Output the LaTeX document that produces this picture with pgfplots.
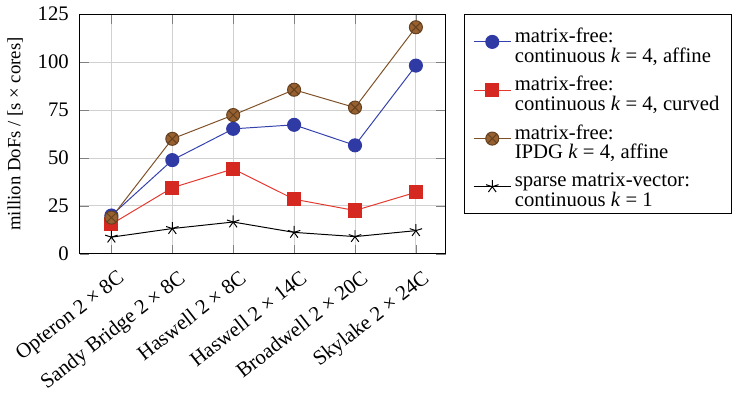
\documentclass[border=0pt]{standalone}
\usepackage{pgfplots}
\pgfplotsset{compat=1.18}
\usepackage{fontspec}
\setmainfont{Liberation Serif}

\definecolor{cblue}{RGB}{52,64,172}
\definecolor{cbluefill}{RGB}{48,58,165}
\definecolor{cred}{RGB}{228,56,46}
\definecolor{credfill}{RGB}{212,40,32}
\definecolor{cbrown}{RGB}{125,80,38}
\definecolor{cbrownfill}{RGB}{150,96,48}

% two-line legend entries with tight line spacing
\newcommand{\entry}[2]{{\renewcommand{\arraystretch}{0.72}%
  \begin{tabular}{@{}l@{}}#1\\#2\end{tabular}}}

\pgfplotstableread{
x affine curved ipdg sparse
0 20.0 15.5 18.9 8.7
1 48.9 34.5 60.0 13.2
2 65.2 44.3 72.4 16.6
3 67.3 28.5 85.6 11.2
4 56.6 22.6 76.3 9.0
5 98.2 32.1 118.2 12.1
}\perfdata

\begin{document}
\begin{tikzpicture}
\begin{axis}[
  scale only axis,
  width=168pt, height=110pt,
  xmin=-0.52, xmax=5.49,
  ymin=0, ymax=125,
  ytick={0,25,50,75,100,125},
  xtick={0,1,2,3,4,5},
  xticklabels={Opteron 2 × 8C, Sandy Bridge 2 × 8C, Haswell 2 × 8C, Haswell 2 × 14C, Broadwell 2 × 20C, Skylake 2 × 24C},
  x tick label style={font=\fontsize{9.6}{11}\selectfont, xshift=2.5pt, yshift=-6pt, rotate=38, anchor=north east, inner sep=0.5pt},
  y tick label style={font=\fontsize{9.5}{11}\selectfont, xshift=-1.5pt},
  /pgf/number format/assume math mode=true,
  grid=major,
  major grid style={black!18},
  ylabel={million DoFs / [s × cores]},
  ylabel style={font=\fontsize{8.6}{10}\selectfont, yshift=0pt},
  every axis plot/.append style={mark size=3pt, line width=0.45pt},
  legend style={at={(1.05,1)}, anchor=north west,
    font=\fontsize{9.5}{11}\selectfont,
    nodes={inner sep=1.6pt}, row sep=6.2pt,
    inner xsep=4pt, inner ysep=4.5pt},
  legend cell align=left,
]
\addplot[cblue, mark=*, mark options={fill=cbluefill, draw=cbluefill}]
  table[x=x, y=affine] {\perfdata};
\addlegendentry{\entry{matrix-free:}{continuous \textit{k} = 4, affine}}
\addplot[cred, mark=square*, mark options={fill=credfill, draw=credfill}]
  table[x=x, y=curved] {\perfdata};
\addlegendentry{\entry{matrix-free:}{continuous \textit{k} = 4, curved}}
\addplot[cbrown, mark=otimes*, mark options={fill=cbrownfill, draw=cbrown!80!black}]
  table[x=x, y=ipdg] {\perfdata};
\addlegendentry{\entry{matrix-free:}{IPDG \textit{k} = 4, affine}}
\addplot[black, mark=star] table[x=x, y=sparse] {\perfdata};
\addlegendentry{\entry{sparse matrix-vector:}{continuous \textit{k} = 1}}
\end{axis}
\end{tikzpicture}
\end{document}
